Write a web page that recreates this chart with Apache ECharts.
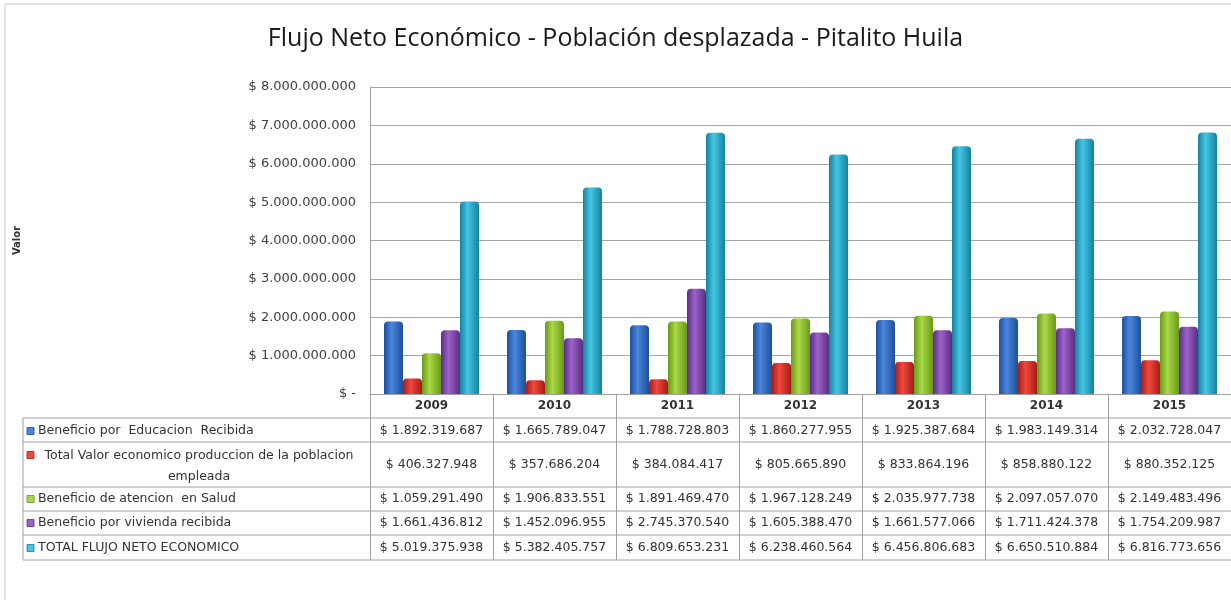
<!DOCTYPE html>
<html>
<head>
<meta charset="utf-8">
<title>Flujo Neto Económico</title>
<script src="https://cdn.jsdelivr.net/npm/echarts@6/dist/echarts.min.js"></script>
<style>
  html, body { margin: 0; padding: 0; background: #fff; }
  #main { width: 1231px; height: 600px; }
</style>
</head>
<body>
<div id="main"></div>
<script>
var years = ['2009', '2010', '2011', '2012', '2013', '2014', '2015'];
var educacion = [1892319687, 1665789047, 1788728803, 1860277955, 1925387684, 1983149314, 2032728047];
var produccion = [406327948, 357686204, 384084417, 805665890, 833864196, 858880122, 880352125];
var salud = [1059291490, 1906833551, 1891469470, 1967128249, 2035977738, 2097057070, 2149483496];
var vivienda = [1661436812, 1452096955, 2745370540, 1605388470, 1661577066, 1711424378, 1754209987];
var totalFlujo = [5019375938, 5382405757, 6809653231, 6238460564, 6456806683, 6650510884, 6816773656];

var seriesNames = [
  'Beneficio por  Educacion  Recibida',
  'Total Valor economico produccion de la poblacion\nempleada',
  'Beneficio de atencion  en Salud',
  'Beneficio por vivienda recibida',
  'TOTAL FLUJO NETO ECONOMICO'
];
var seriesData = [educacion, produccion, salud, vivienda, totalFlujo];

// edge / middle colours for the cylinder look
var colors = [
  ['#1d4f9c', '#4a86dc'],
  ['#a41d17', '#f0483c'],
  ['#679a16', '#acd848'],
  ['#5a2c86', '#9b63c8'],
  ['#15819d', '#45c6e6']
];

function money(v) {
  return '$ ' + String(v).replace(/\B(?=(\d{3})+(?!\d))/g, '.');
}

var gridLeft = 370, gridTop = 87, gridBottomY = 394;
var rowLines = [418, 442, 487, 511, 535, 560];
var rowCenters = [431, 465, 499, 523, 548];
var tableFont = 'DejaVu Sans';

var chartDom = document.getElementById('main');
var myChart = echarts.init(chartDom);
var option;

var xAxes = [{
  type: 'category',
  data: years,
  gridIndex: 0,
  position: 'bottom',
  axisLine: { show: true, lineStyle: { color: '#a0a0a0', width: 1 } },
  axisTick: { show: true, length: 166, lineStyle: { color: '#a0a0a0' } },
  axisLabel: {
    interval: 0, margin: 12, verticalAlign: 'middle',
    color: '#333', fontFamily: tableFont, fontSize: 12, fontWeight: 'bold'
  }
}];
// one hidden axis for each table row, so the cell texts sit under the categories
seriesData.forEach(function (arr, i) {
  xAxes.push({
    type: 'category',
    data: years,
    gridIndex: 0,
    position: 'bottom',
    axisLine: { show: false },
    axisTick: { show: false },
    splitLine: { show: false },
    axisLabel: {
      interval: 0,
      margin: rowCenters[i] - gridBottomY,
      verticalAlign: 'middle',
      color: '#333',
      fontFamily: tableFont,
      fontSize: 12.5,
      formatter: function (v, idx) { return money(arr[idx]); }
    }
  });
});

var series = seriesData.map(function (arr, i) {
  return {
    name: seriesNames[i],
    type: 'bar',
    xAxisIndex: 0,
    data: arr,
    barWidth: 19,
    barGap: '0%',
    itemStyle: {
      borderRadius: [4, 4, 0, 0],
      color: new echarts.graphic.LinearGradient(0, 0, 1, 0, [
        { offset: 0, color: colors[i][0] },
        { offset: 0.4, color: colors[i][1] },
        { offset: 1, color: colors[i][0] }
      ])
    }
  };
});

// table lines, legend keys and row labels
var graphics = [
  { type: 'rect', shape: { x: 5, y: 4, width: 1240, height: 620 }, style: { fill: 'none', stroke: '#c8c8c8', lineWidth: 1 }, silent: true }
];
rowLines.forEach(function (y) {
  graphics.push({ type: 'line', shape: { x1: 23, y1: y, x2: 1231, y2: y }, style: { stroke: '#a0a0a0', lineWidth: 1 } });
});
graphics.push({ type: 'line', shape: { x1: 23, y1: 418, x2: 23, y2: 560 }, style: { stroke: '#a0a0a0', lineWidth: 1 } });
seriesNames.forEach(function (name, i) {
  var twoLine = name.indexOf('\n') >= 0;
  var keyY = twoLine ? 455 : rowCenters[i];
  graphics.push({
    type: 'rect', shape: { x: 27, y: keyY - 3.5, width: 7, height: 7 },
    style: { fill: colors[i][1], stroke: colors[i][0], lineWidth: 0.8 }
  });
  graphics.push({
    type: 'text',
    x: twoLine ? 199 : 38,
    y: twoLine ? 466 : rowCenters[i],
    style: {
      text: name,
      font: '12.5px "DejaVu Sans"',
      fill: '#333',
      textAlign: twoLine ? 'center' : 'left',
      textVerticalAlign: 'middle',
      lineHeight: 21
    }
  });
});

option = {
  backgroundColor: '#fff',
  animation: false,
  title: {
    text: 'Flujo Neto Económico - Población desplazada - Pitalito Huila',
    left: 'center',
    top: 21,
    textStyle: { fontFamily: 'Open Sans', fontSize: 25, fontWeight: 'normal', color: '#1a1a1a' }
  },
  grid: {
    left: gridLeft,
    top: gridTop,
    width: 861,
    height: gridBottomY - gridTop,
    outerBoundsMode: 'none'
  },
  xAxis: xAxes,
  yAxis: {
    type: 'value',
    min: 0,
    max: 8000000000,
    interval: 1000000000,
    name: 'Valor',
    nameLocation: 'middle',
    nameGap: 348,
    nameRotate: 90,
    nameTextStyle: { fontFamily: tableFont, fontSize: 10, fontWeight: 'bold', color: '#333' },
    axisLine: { show: true, lineStyle: { color: '#a0a0a0' } },
    axisTick: { show: false },
    axisLabel: {
      margin: 14,
      color: '#404040',
      fontFamily: tableFont,
      fontSize: 13,
      formatter: function (v) { return v === 0 ? '$ -' : money(v); }
    },
    splitLine: { lineStyle: { color: '#a6a6a6', width: 1 } }
  },
  series: series,
  graphic: graphics
};
myChart.setOption(option);
</script>
</body>
</html>
